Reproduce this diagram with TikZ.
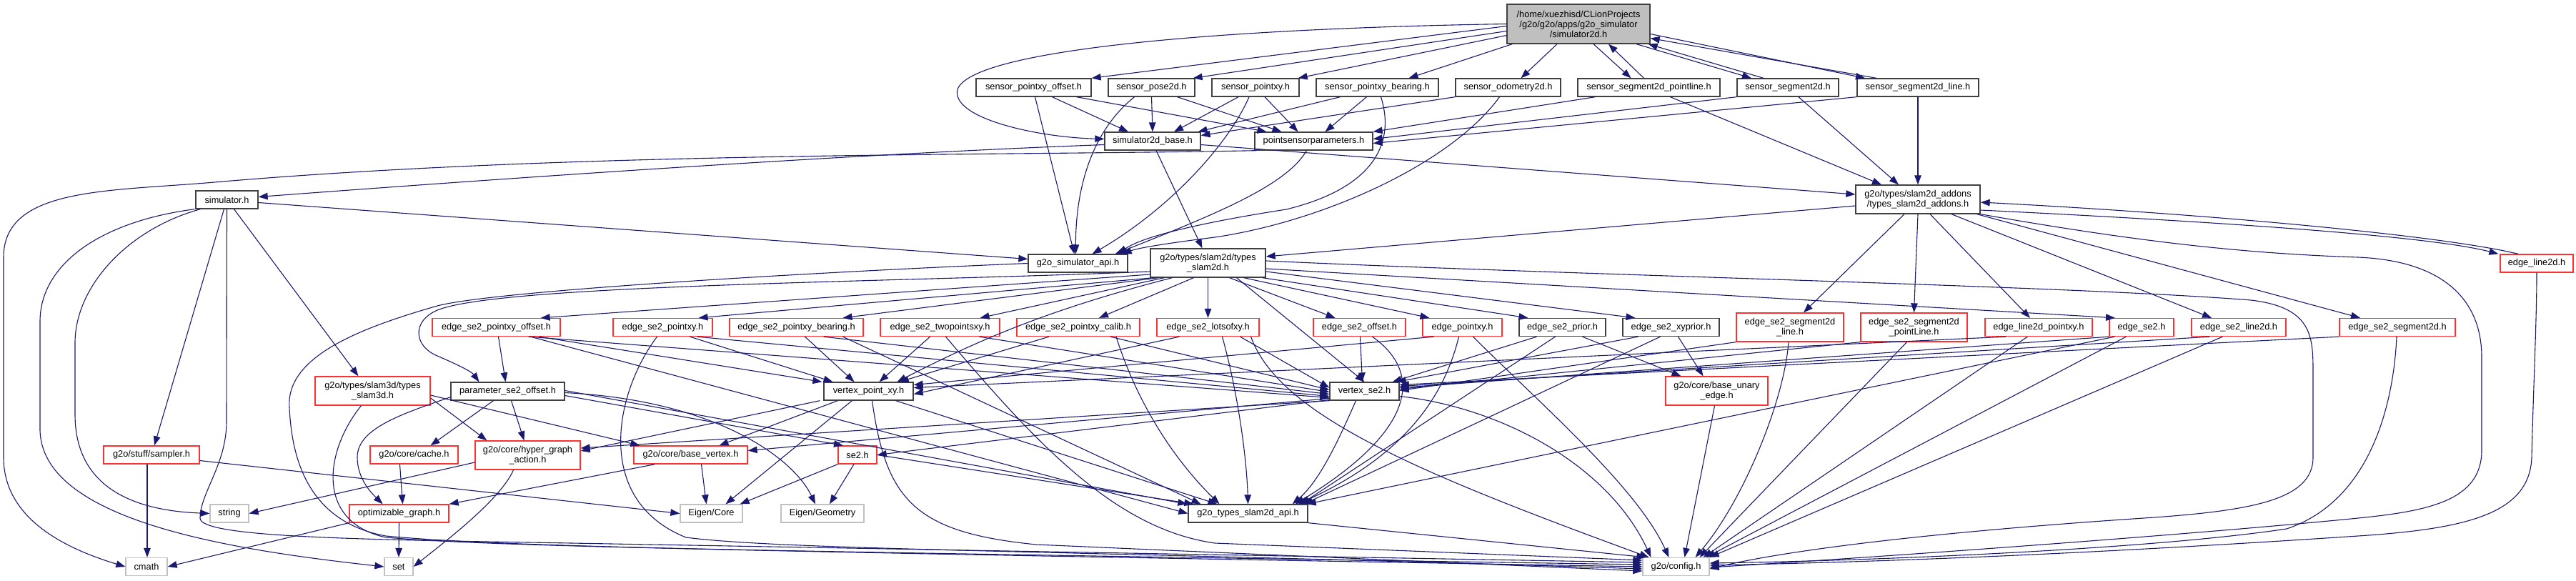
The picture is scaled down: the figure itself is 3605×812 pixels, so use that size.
\documentclass[tikz,border=0pt]{standalone}
\usepackage{fontspec}
\setmainfont{Liberation Sans}
\usetikzlibrary{arrows.meta}
\definecolor{edgeblue}{HTML}{191970}
\definecolor{boxred}{HTML}{FF3030}
\definecolor{boxgrey}{HTML}{C0C0C0}
\definecolor{mainfill}{HTML}{BFBFBF}
\begin{document}
\begin{tikzpicture}[x=1pt,y=-1pt,
  nbox/.style={draw=black!75, line width=1.3pt, fill=white, inner sep=0pt, align=center, text=black, font=\fontsize{12.8}{14}\selectfont},
  rbox/.style={nbox, draw=boxred},
  gbox/.style={nbox, draw=boxgrey},
  hone/.style={minimum height=25},
  htwo/.style={minimum height=40},
  edg/.style={draw=edgeblue, line width=1.1pt, -{Triangle[length=13pt,width=9.5pt]}}]
\useasboundingbox (0,0) rectangle (3605,812);
% ---------------- nodes
\node[nbox,fill=mainfill,minimum width=200,minimum height=55] (M) at (2209,33.5) {/home/xuezhisd/CLionProjects\\/g2o/g2o/apps/g2o\_simulator\\/simulator2d.h};
\node[nbox,hone,minimum width=161] (SPO) at (1446.5,122.5) {sensor\_pointxy\_offset.h};
\node[nbox,hone,minimum width=121] (SP2) at (1611.5,122.5) {sensor\_pose2d.h};
\node[nbox,hone,minimum width=122] (SPX) at (1757,122.5) {sensor\_pointxy.h};
\node[nbox,hone,minimum width=171] (SPB) at (1927.5,122.5) {sensor\_pointxy\_bearing.h};
\node[nbox,hone,minimum width=147] (SO) at (2110.5,122.5) {sensor\_odometry2d.h};
\node[nbox,hone,minimum width=199] (SSPL) at (2307.5,122.5) {sensor\_segment2d\_pointline.h};
\node[nbox,hone,minimum width=142] (SS) at (2502,122.5) {sensor\_segment2d.h};
\node[nbox,hone,minimum width=170] (SSL) at (2684,122.5) {sensor\_segment2d\_line.h};
\node[nbox,hone,minimum width=134] (S2B) at (1613,197.5) {simulator2d\_base.h};
\node[nbox,hone,minimum width=165] (PSP) at (1838.5,197.5) {pointsensorparameters.h};
\node[nbox,hone,minimum width=87] (SIM) at (317.5,279.5) {simulator.h};
\node[nbox,htwo,minimum width=174] (TSA) at (2684,279) {g2o/types/slam2d\_addons\\/types\_slam2d\_addons.h};
\node[nbox,hone,minimum width=139] (G2S) at (1508.5,368.5) {g2o\_simulator\_api.h};
\node[nbox,htwo,minimum width=161] (TS2) at (1690.5,368) {g2o/types/slam2d/types\\\_slam2d.h};
\node[rbox,hone,minimum width=102] (EL2) at (3550,368.5) {edge\_line2d.h};
\node[rbox,hone,minimum width=179] (ESPO) at (694.5,458) {edge\_se2\_pointxy\_offset.h};
\node[rbox,hone,minimum width=139] (ESPXY) at (927.5,458) {edge\_se2\_pointxy.h};
\node[rbox,hone,minimum width=187] (ESPB) at (1114.5,458) {edge\_se2\_pointxy\_bearing.h};
\node[rbox,hone,minimum width=167] (ETWO) at (1315.5,458) {edge\_se2\_twopointsxy.h};
\node[rbox,hone,minimum width=172] (ECALIB) at (1509,458) {edge\_se2\_pointxy\_calib.h};
\node[rbox,hone,minimum width=143] (ELOTS) at (1690.5,458) {edge\_se2\_lotsofxy.h};
\node[rbox,hone,minimum width=129] (EOFF) at (1902.5,458) {edge\_se2\_offset.h};
\node[rbox,hone,minimum width=111] (EPXY) at (2046.5,458) {edge\_pointxy.h};
\node[nbox,hone,minimum width=121] (EPRIOR) at (2186.5,458) {edge\_se2\_prior.h};
\node[nbox,hone,minimum width=135] (EXYP) at (2338.5,458) {edge\_se2\_xyprior.h};
\node[rbox,htwo,minimum width=150] (ESSL) at (2505,458) {edge\_se2\_segment2d\\\_line.h};
\node[rbox,htwo,minimum width=149] (ESSPL) at (2678.5,458) {edge\_se2\_segment2d\\\_pointLine.h};
\node[rbox,hone,minimum width=150] (ELPXY) at (2853,458) {edge\_line2d\_pointxy.h};
\node[rbox,hone,minimum width=90] (ESE2) at (2997,458) {edge\_se2.h};
\node[rbox,hone,minimum width=132] (ESL2) at (3133,458) {edge\_se2\_line2d.h};
\node[rbox,hone,minimum width=162] (ESS2) at (3355,458) {edge\_se2\_segment2d.h};
\node[rbox,htwo,minimum width=161] (TS3) at (521.5,547) {g2o/types/slam3d/types\\\_slam3d.h};
\node[nbox,hone,minimum width=159] (PARAM) at (710.5,547.5) {parameter\_se2\_offset.h};
\node[nbox,hone,minimum width=125] (VPXY) at (1215.5,547.5) {vertex\_point\_xy.h};
\node[nbox,hone,minimum width=97] (VS2) at (1909.5,547.5) {vertex\_se2.h};
\node[rbox,htwo,minimum width=143] (BUE) at (2402.5,547) {g2o/core/base\_unary\\\_edge.h};
\node[rbox,hone,minimum width=134] (SAMP) at (212,636.5) {g2o/stuff/sampler.h};
\node[rbox,hone,minimum width=123] (CACHE) at (579.5,636.5) {g2o/core/cache.h};
\node[rbox,htwo,minimum width=147] (HGA) at (738.5,637) {g2o/core/hyper\_graph\\\_action.h};
\node[rbox,hone,minimum width=159] (BV) at (966.5,636.5) {g2o/core/base\_vertex.h};
\node[rbox,hone,minimum width=54] (SE2) at (1200,636.5) {se2.h};
\node[gbox,hone,minimum width=54] (STR) at (321,718.5) {string};
\node[rbox,hone,minimum width=139] (OG) at (558.5,718.5) {optimizable\_graph.h};
\node[gbox,hone,minimum width=87] (ECORE) at (995.5,718.5) {Eigen/Core};
\node[gbox,hone,minimum width=116] (EGEO) at (1151,718.5) {Eigen/Geometry};
\node[nbox,hone,minimum width=167] (API) at (1746.5,718.5) {g2o\_types\_slam2d\_api.h};
\node[gbox,hone,minimum width=58] (CMATH) at (205,793) {cmath};
\node[gbox,hone,minimum width=40] (SET) at (558,793) {set};
\node[gbox,hone,minimum width=93] (CFG) at (2345.5,793) {g2o/config.h};
% ---------------- main file
\draw[edg] (M.west) .. controls (1700,40) and (1360,70) .. (1340,125) .. controls (1330,165) and (1450,192) .. ([yshift=3]S2B.west);
\draw[edg] ([yshift=-3]M.west) -- (SPO.north east);
\draw[edg] ([yshift=-10]M.west) -- ([xshift=-3]SP2.north east);
\draw[edg] ([yshift=-16]M.west) -- ([xshift=-2]SPX.north east);
\draw[edg] ([xshift=8]M.south west) -- ([xshift=44]SPB.north);
\draw[edg] ([xshift=-30]M.south) -- ([xshift=18]SO.north);
\draw[edg] ([xshift=21]M.south) -- ([xshift=-25]SSPL.north);
\draw[edg] ([xshift=-7]SSPL.north) -- ([xshift=42]M.south);
\draw[edg] ([xshift=81]M.south) -- ([xshift=-51]SS.north);
\draw[edg] ([xshift=-34]SS.north) -- ([xshift=-3]M.south east);
\draw[edg] ([yshift=-14]M.east) -- ([xshift=-74]SSL.north);
\draw[edg] ([xshift=-58]SSL.north) -- ([yshift=-20]M.east);
% ---------------- sensors
\draw[edg] ([xshift=26]SPO.south) -- ([xshift=-34]S2B.north);
\draw[edg] ([xshift=60]SPO.south) -- ([xshift=-66]PSP.north);
\draw[edg] ([xshift=2]SPO.south) -- ([xshift=-5]G2S.north);
\draw[edg] (SP2.south) -- (S2B.north);
\draw[edg] ([xshift=-24]SP2.south) .. controls (1520,190) and (1505,280) .. ([xshift=-3]G2S.north);
\draw[edg] ([xshift=36]SP2.south) -- ([xshift=-45]PSP.north);
\draw[edg] ([xshift=-24]SPX.south) -- ([xshift=30]S2B.north);
\draw[edg] ([xshift=-9]SPX.south) .. controls (1720,200) and (1640,290) .. ([xshift=20]G2S.north);
\draw[edg] ([xshift=13]SPX.south) -- ([xshift=-22]PSP.north);
\draw[edg] ([xshift=-52]SPB.south) -- ([xshift=-4]S2B.north east);
\draw[edg] ([xshift=-15]SPB.south) -- ([xshift=16]PSP.north);
\draw[edg] ([xshift=5]SPB.south) .. controls (1950,190) and (1935,260) .. (1800,293) .. controls (1690,310) and (1600,330) .. ([xshift=-14]G2S.north east);
\draw[edg] (SO.south west) -- ([yshift=8]S2B.east);
\draw[edg] ([xshift=-12]SO.south) .. controls (2030,230) and (1850,310) .. (1700,332) .. controls (1620,342) and (1590,348) .. ([xshift=-8]G2S.north east);
\draw[edg] ([xshift=-10]PSP.south) .. controls (1800,260) and (1700,300) .. ([xshift=-18]G2S.north east);
\draw[edg] ([xshift=-75]SSPL.south) -- (PSP.north east);
\draw[edg] (SS.south west) -- ([yshift=3]PSP.east);
\draw[edg] (SSL.south west) -- ([yshift=-3]PSP.east);
\draw[edg] ([xshift=30]SSPL.south) -- ([xshift=-51]TSA.north);
\draw[edg] ([xshift=15]SS.south) -- ([xshift=-27]TSA.north);
\draw[edg] (SSL.south) -- (TSA.north);
% ---------------- simulator2d_base / pointsensorparameters
\draw[edg] ([yshift=-5]S2B.west) .. controls (1200,215) and (700,250) .. ([yshift=4]SIM.east);
\draw[edg] ([yshift=-5]S2B.east) -- ([yshift=7]TSA.west);
\draw[edg] ([xshift=5]S2B.south) -- ([xshift=-8]TS2.north);
\draw[edg] ([xshift=3]PSP.south west) .. controls (1400,218) and (800,212) .. (300,255) .. controls (150,268) and (5,262) .. (5,360) -- (5,640) .. controls (5,730) and (100,770) .. (CMATH.west);
% ---------------- simulator.h
\draw[edg] ([yshift=-4]SIM.east) -- ([yshift=6]G2S.west);
\draw[edg] ([xshift=-45]SIM.south) .. controls (140,310) and (56,370) .. (56,450) -- (56,600) .. controls (56,730) and (330,770) .. (SET.west);
\draw[edg] ([xshift=-37]SIM.south) .. controls (180,320) and (105,400) .. (105,480) -- (105,580) .. controls (105,690) and (200,715) .. (STR.west);
\draw[edg] ([xshift=-4]SIM.south) -- ([xshift=4]SAMP.north);
\draw[edg] (SIM.south) -- (317,590) .. controls (317,650) and (280,690) .. (280,725) .. controls (280,752) and (500,755) .. (800,760) -- ([yshift=6]CFG.west);
\draw[edg] ([xshift=10]SIM.south) -- ([xshift=-20]TS3.north);
% ---------------- slam3d
\draw[edg] ([xshift=-16]TS3.south) .. controls (455,630) and (440,730) .. (540,752) .. controls (700,765) and (1000,770) .. ([yshift=3]CFG.west);
\draw[edg] ([yshift=-10]TS3.east) -- ([xshift=17]HGA.north west);
\draw[edg] ([yshift=-6]TS3.east) -- ([xshift=9]BV.north west);
% ---------------- simulator api
\draw[edg] (G2S.west) .. controls (1200,378) and (700,405) .. (612,428) .. controls (500,460) and (400,500) .. (405,570) .. controls (408,640) and (430,730) .. (540,750) .. controls (700,765) and (1000,770) .. (CFG.west);
% ---------------- types_slam2d
\draw[edg] ([yshift=-12]TS2.west) .. controls (1250,395) and (700,398) .. (612,434) .. controls (575,450) and (580,485) .. (612,498) .. controls (640,510) and (660,520) .. ([xshift=-40]PARAM.north);
\draw[edg] ([yshift=-16]TS2.west) -- ([xshift=-28]ESPO.north east);
\draw[edg] ([xshift=5]TS2.south west) -- ([xshift=50]ESPXY.north);
\draw[edg] ([xshift=12]TS2.south west) -- ([xshift=65]ESPB.north);
\draw[edg] ([xshift=20]TS2.south west) -- ([xshift=56]ETWO.north);
\draw[edg] ([xshift=-20]TS2.south) -- ([xshift=29]ECALIB.north);
\draw[edg] (TS2.south) -- (ELOTS.north);
\draw[edg] ([xshift=30]TS2.south) -- ([xshift=-34]EOFF.north);
\draw[edg] ([xshift=50]TS2.south) -- ([xshift=-46]EPXY.north);
\draw[edg] ([xshift=-5]TS2.south east) -- ([xshift=-48]EPRIOR.north);
\draw[edg] ([yshift=-12]TS2.east) -- ([xshift=-50]EXYP.north);
\draw[edg] ([yshift=-8]TS2.east) -- ([xshift=-37]ESE2.north);
\draw[edg] ([xshift=-50]TS2.south) .. controls (1480,430) and (1380,470) .. ([xshift=40]VPXY.north);
\draw[edg] ([xshift=40]TS2.south) -- (VS2.north);
\draw[edg] ([yshift=3]TS2.east) .. controls (2200,385) and (2900,400) .. (3150,420) .. controls (3235,430) and (3237,470) .. (3237,520) -- (3237,640) .. controls (3237,700) and (3150,715) .. (3000,725) .. controls (2700,745) and (2500,770) .. ([yshift=-3]CFG.east);
% ---------------- types_slam2d_addons
\draw[edg] ([yshift=-9]TSA.west) -- ([yshift=9]TS2.east);
\draw[edg] ([xshift=-19]TSA.south) -- ([xshift=19]ESSL.north);
\draw[edg] (TSA.south) -- (ESSPL.north);
\draw[edg] ([xshift=17]TSA.south) -- ([xshift=-12]ELPXY.north);
\draw[edg] ([xshift=47]TSA.south) -- ([xshift=-38]ESL2.north);
\draw[edg] ([xshift=-5]TSA.south east) -- ([xshift=-52]ESS2.north);
\draw[edg] ([yshift=-15]TSA.east) .. controls (3100,310) and (3400,330) .. ([xshift=-2]EL2.north west);
\draw[edg] ([xshift=-26]EL2.north) .. controls (3420,330) and (3100,300) .. ([yshift=-4]TSA.east);
\draw[edg] (TSA.south east) .. controls (3000,340) and (3150,355) .. (3300,360) .. controls (3420,365) and (3473,420) .. (3473,500) -- (3473,630) .. controls (3473,700) and (3400,715) .. (3300,725) .. controls (3100,745) and (2700,775) .. ([yshift=-1]CFG.east);
% ---------------- addon edges
\draw[edg] (EL2.south) .. controls (3550,450) and (3545,550) .. (3543,640) .. controls (3540,720) and (3450,740) .. (3300,750) .. controls (3000,770) and (2700,785) .. ([yshift=2]CFG.east);
\draw[edg] ([xshift=-1]ESS2.south) .. controls (3350,560) and (3320,700) .. (3200,740) .. controls (3000,770) and (2600,785) .. ([yshift=5]CFG.east);
\draw[edg] (ESS2.south west) -- ([yshift=9]VS2.east);
\draw[edg] ([xshift=26]ESL2.south west) -- ([yshift=7]VS2.east);
\draw[edg] ([xshift=44]ESL2.south west) -- (CFG.north east);
\draw[edg] (ESE2.south west) -- ([yshift=5]VS2.east);
\draw[edg] ([xshift=8]ESE2.south west) -- ([xshift=-2]API.north east);
\draw[edg] ([xshift=24]ESE2.south west) -- ([xshift=-5]CFG.north east);
\draw[edg] ([xshift=30]ELPXY.south west) -- ([yshift=5]VPXY.east);
\draw[edg] ([xshift=60]ELPXY.south west) -- ([xshift=-9]CFG.north east);
\draw[edg] (ESSPL.south west) -- ([yshift=3]VS2.east);
\draw[edg] ([xshift=-10]ESSPL.south) -- ([xshift=-14]CFG.north east);
\draw[edg] (ESSL.south west) -- ([yshift=1]VS2.east);
\draw[edg] ([xshift=-2]ESSL.south) .. controls (2497,560) and (2440,700) .. ([xshift=-20]CFG.north east);
% ---------------- slam2d edges
\draw[edg] ([xshift=10]EXYP.south) -- ([xshift=-19]BUE.north);
\draw[edg] ([xshift=-46]EXYP.south) -- ([xshift=-4]VS2.north east);
\draw[edg] ([xshift=-15]EXYP.south) -- ([xshift=-6]API.north east);
\draw[edg] ([xshift=28]EPRIOR.south) -- ([xshift=-50]BUE.north);
\draw[edg] ([xshift=-36]EPRIOR.south) -- ([xshift=-10]VS2.north east);
\draw[edg] ([xshift=-10]EPRIOR.south) -- ([xshift=-10]API.north east);
\draw[edg] ([xshift=-40]EPXY.south) -- ([yshift=9]VPXY.east);
\draw[edg] ([xshift=-5]EPXY.south) .. controls (2020,560) and (1960,640) .. ([xshift=-14]API.north east);
\draw[edg] ([xshift=15]EPXY.south) .. controls (2150,560) and (2290,680) .. ([xshift=-10]CFG.north);
\draw[edg] ([xshift=1]EOFF.south) -- ([xshift=-3]VS2.north);
\draw[edg] ([xshift=18]EOFF.south) .. controls (1990,520) and (1985,600) .. ([xshift=-18]API.north east);
\draw[edg] ([xshift=20]ELOTS.south) .. controls (1735,560) and (1745,650) .. (API.north);
\draw[edg] ([xshift=45]ELOTS.south) -- ([yshift=5]VS2.west);
\draw[edg] ([xshift=-40]ELOTS.south) -- ([yshift=-4]VPXY.east);
\draw[edg] ([xshift=60]ELOTS.south) .. controls (1790,580) and (1980,660) .. ([xshift=-38]CFG.north);
\draw[edg] ([xshift=-41]ECALIB.south) -- ([xshift=-20]VPXY.north east);
\draw[edg] ([xshift=45]ECALIB.south) -- ([yshift=2]VS2.west);
\draw[edg] ([xshift=53]ECALIB.south) .. controls (1590,560) and (1640,640) .. ([xshift=-40]API.north);
\draw[edg] ([xshift=-14]ETWO.south) -- ([xshift=15]VPXY.north);
\draw[edg] ([xshift=8]ETWO.south) .. controls (1450,620) and (1560,740) .. (1700,760) -- ([yshift=9]CFG.west);
\draw[edg] ([xshift=55]ETWO.south) -- ([yshift=-1]VS2.west);
\draw[edg] ([xshift=12]ESPB.south) -- ([xshift=-20]VPXY.north);
\draw[edg] ([xshift=38]ESPB.south) -- ([yshift=-4]VS2.west);
\draw[edg] ([xshift=65]ESPB.south) -- ([xshift=-66]API.north);
\draw[edg] ([xshift=38]ESPXY.south) -- ([xshift=-50]VPXY.north);
\draw[edg] ([xshift=48]ESPXY.south) -- ([yshift=-7]VS2.west);
\draw[edg] ([xshift=-8]ESPXY.south) .. controls (860,550) and (830,700) .. (960,752) .. controls (1100,770) and (1500,770) .. ([yshift=-3]CFG.west);
\draw[edg] ([xshift=3]ESPO.south) -- ([xshift=-3]PARAM.north);
\draw[edg] ([xshift=60]ESPO.south) -- ([xshift=-2]VPXY.north west);
\draw[edg] ([xshift=45]ESPO.south) -- ([yshift=-9]VS2.west);
\draw[edg] ([xshift=48]ESPO.south) -- (API.west);
% ---------------- vertices
\draw[edg] ([yshift=-7]VS2.east) .. controls (2100,570) and (2250,650) .. ([xshift=-35]CFG.north);
\draw[edg] ([xshift=-12]VS2.south) .. controls (1880,600) and (1850,670) .. ([xshift=-22]API.north east);
\draw[edg] ([yshift=-10]VS2.west) -- ([yshift=6]BV.east);
\draw[edg] (VS2.south west) -- ([yshift=10]HGA.east);
\draw[edg] ([yshift=-12]VS2.west) -- (SE2.east);
\draw[edg] ([xshift=-5]VPXY.south west) -- ([yshift=6]HGA.east);
\draw[edg] ([xshift=20]VPXY.south west) -- ([xshift=40]BV.north);
\draw[edg] ([xshift=40]VPXY.south west) -- ([xshift=20]ECORE.north);
\draw[edg] ([xshift=5]VPXY.south) .. controls (1240,700) and (1280,745) .. (1450,762) -- ([yshift=-6]CFG.west);
\draw[edg] ([xshift=38]VPXY.south) -- ([xshift=-43]API.north);
\draw[edg] (SE2.south west) -- ([xshift=-4]ECORE.north east);
\draw[edg] ([xshift=-5]SE2.south) -- ([xshift=10]EGEO.north);
\draw[edg] (SE2.east) -- ([xshift=8]API.north west);
% ---------------- parameter
\draw[edg] ([xshift=-20]PARAM.south) -- ([xshift=23]CACHE.north);
\draw[edg] ([xshift=5]PARAM.south) -- ([xshift=-5]HGA.north);
\draw[edg] ([yshift=5]PARAM.south west) .. controls (560,580) and (500,600) .. (500,640) .. controls (500,670) and (520,690) .. ([xshift=-23]OG.north);
\draw[edg] ([yshift=-6]PARAM.east) -- ([xshift=-20]SE2.north);
\draw[edg] ([yshift=-2]PARAM.east) .. controls (1000,560) and (1110,640) .. ([xshift=-10]EGEO.north);
\draw[edg] ([yshift=1]PARAM.east) -- ([xshift=-1]API.north west);
% ---------------- core
\draw[edg] ([yshift=-10]HGA.west) -- (STR.east);
\draw[edg] ([xshift=-20]HGA.south) .. controls (700,700) and (620,760) .. (SET.east);
\draw[edg] ([xshift=-50]BV.south) -- (OG.north east);
\draw[edg] ([xshift=15]BV.south) -- ([xshift=-7]ECORE.north);
\draw[edg] ([xshift=-20]CACHE.south) -- ([xshift=5]OG.north);
\draw[edg] (OG.south west) -- (CMATH.east);
\draw[edg] (OG.south) -- (SET.north);
\draw[edg] ([xshift=-6]SAMP.south) -- ([xshift=1]CMATH.north);
\draw[edg] ([yshift=-8]SAMP.east) -- (ECORE.west);
\draw[edg] ([xshift=-3]BUE.south) -- ([xshift=12]CFG.north);
\draw[edg] (API.south east) -- ([xshift=5]CFG.north west);
\end{tikzpicture}
\end{document}
